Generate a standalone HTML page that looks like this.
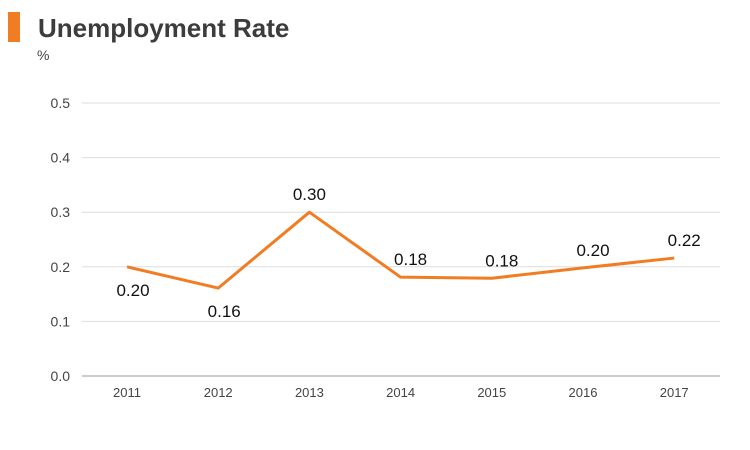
<!DOCTYPE html>
<html><head><meta charset="utf-8"><style>
body{margin:0;background:#fff;font-family:"Liberation Sans",sans-serif}
svg{display:block}
</style></head><body>
<svg id="chart" width="750" height="450">
<rect x="8" y="12" width="12" height="30" fill="#f07d24"/>
<text x="38" y="37" font-size="26" font-weight="bold" fill="#3c3c3c">Unemployment Rate</text>
<text x="37" y="60" font-size="14" fill="#444">%</text>
<g id="grid"></g><g id="xlab"></g><g id="series"></g>
</svg>
<script>
const categories=["2011","2012","2013","2014","2015","2016","2017"];
const values=[0.20,0.161,0.30,0.181,0.179,0.198,0.216];
const valueLabels=["0.20","0.16","0.30","0.18","0.18","0.20","0.22"];
const yTicks=[0,0.1,0.2,0.3,0.4,0.5];
const yTickLabels=["0.0","0.1","0.2","0.3","0.4","0.5"];
const NS="http://www.w3.org/2000/svg";
const y=v=>376-v*546;
const x=i=>127+i*91.2;
function mk(t,a,p){const e=document.createElementNS(NS,t);for(const k in a)e.setAttribute(k,a[k]);p.appendChild(e);return e;}
const g=document.getElementById('grid');
yTicks.forEach((v,i)=>{
 const l=mk('line',{x1:82,x2:720,y1:y(v),y2:y(v),stroke:i==0?'#999':'#ddd','stroke-width':1},g);
 
 
 const t=mk('text',{x:70,y:y(v)+5,'text-anchor':'end','font-size':14,fill:'#444'},g);
 t.textContent=yTickLabels[i];
 
 
});
const xl=document.getElementById('xlab');
categories.forEach((c,i)=>{
 const t=mk('text',{x:x(i),y:397,'text-anchor':'middle','font-size':13,fill:'#444'},xl);
 t.textContent=c;
 
 
});
const s=document.getElementById('series');
const p=mk('polyline',{points:values.map((v,i)=>x(i)+','+y(v)).join(' '),fill:'none',stroke:'#f07d24','stroke-width':3,'stroke-linejoin':'round'},s);


values.forEach((v,i)=>{
 const below=i<2;
 const t=mk('text',{x:x(i)+(below?6:0)+(i>2?10:0),y:below?y(v)+29:y(v)-12,'text-anchor':'middle','font-size':17,fill:'#111'},s);
 t.textContent=valueLabels[i];
 
 
});
</script>
</body></html>
